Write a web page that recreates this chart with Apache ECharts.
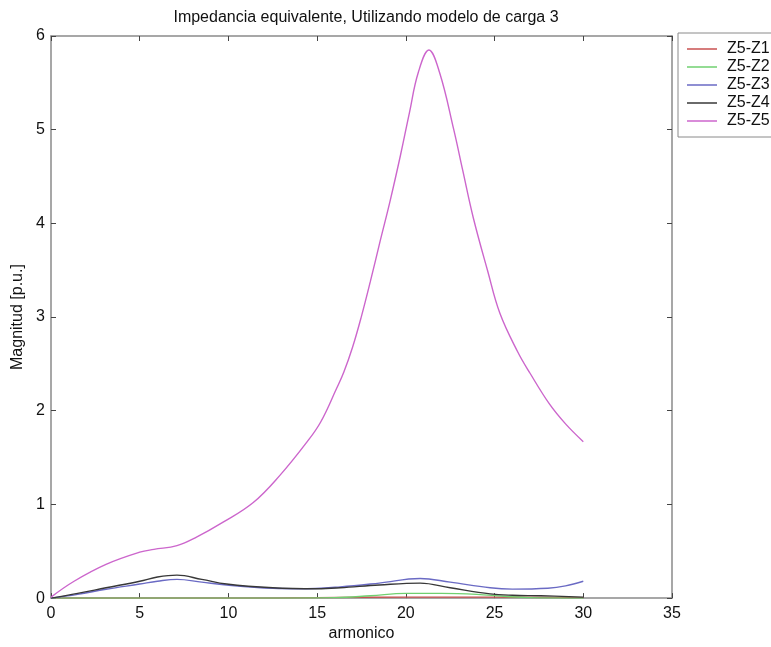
<!DOCTYPE html>
<html>
<head>
<meta charset="utf-8">
<script src="https://cdn.jsdelivr.net/npm/echarts@6/dist/echarts.min.js"></script>
<style>
html,body{margin:0;padding:0;background:#fff;}
#chart{width:771px;height:647px;}
</style>
</head>
<body>
<div id="chart"></div>
<script>
const titleText = 'Impedancia equivalente, Utilizando modelo de carga 3';
const xName = 'armonico';
const yName = 'Magnitud [p.u.]';
const seriesNames = ['Z5-Z1', 'Z5-Z2', 'Z5-Z3', 'Z5-Z4', 'Z5-Z5'];

const z1x = [0, 12, 15, 20, 25, 30];
const z1y = [0, 0, 0.005, 0.01, 0.01, 0.005];

const z2x = [0, 12, 16, 18, 20, 22, 24, 25.5, 27, 30];
const z2y = [0, 0, 0.005, 0.025, 0.05, 0.05, 0.04, 0.02, 0.005, 0];

const z3x = [0, 1.5, 3.1, 5, 6, 7.1, 8.5, 9.9, 12.5, 14, 16.3, 18.5, 20.8, 22.5, 24.75, 26, 28, 29, 30];
const z3y = [0, 0.04, 0.095, 0.15, 0.18, 0.2, 0.17, 0.14, 0.105, 0.1, 0.12, 0.16, 0.21, 0.17, 0.11, 0.096, 0.105, 0.13, 0.18];

const z4x = [0, 1.5, 3.1, 5, 6, 7.1, 8.5, 9.9, 12.5, 15, 16.3, 18.5, 20.8, 22.5, 24.75, 26, 27.6, 30];
const z4y = [0, 0.05, 0.11, 0.18, 0.225, 0.245, 0.2, 0.15, 0.11, 0.1, 0.11, 0.14, 0.16, 0.11, 0.045, 0.03, 0.025, 0.01];

const z5x = [0, 1.3, 3.1, 5.0, 5.8, 7.1, 8.2, 9.7, 11.4, 12.9, 14.4, 15.2, 16.1, 16.5, 17.0, 17.5, 18.0, 18.55, 19.1, 19.7, 20.2, 20.7, 21.3, 21.9, 22.7, 23.2, 23.8, 24.6, 25.3, 26.3, 27.0, 28.1, 29.0, 30.0];
const z5y = [0.01, 0.18, 0.36, 0.49, 0.52, 0.56, 0.65, 0.81, 1.02, 1.31, 1.66, 1.88, 2.24, 2.41, 2.68, 3.01, 3.38, 3.81, 4.23, 4.73, 5.18, 5.61, 5.85, 5.61, 5.0, 4.57, 4.06, 3.5, 3.04, 2.63, 2.4, 2.07, 1.86, 1.67];

const xTicks = [0, 5, 10, 15, 20, 25, 30, 35];
const yTicks = [0, 1, 2, 3, 4, 5, 6];

const colors = ['#c85050', '#70d070', '#6a6ac4', '#383838', '#cc66cc'];
const xsAll = [z1x, z2x, z3x, z4x, z5x];
const ysAll = [z1y, z2y, z3y, z4y, z5y];

const FONT = 'Liberation Sans, Arial, sans-serif';
const FS = 16;
const chart = echarts.init(document.getElementById('chart'), null, {renderer: 'canvas'});

function pairs(xs, ys) { return xs.map((x, i) => [x, ys[i]]); }

function axisCommon() {
  return {
    axisLine: {show: true, onZero: false, lineStyle: {color: '#8a8a8a', width: 1.5}},
    axisTick: {show: true, inside: true, length: 5, lineStyle: {color: '#444'}},
    splitLine: {show: false}
  };
}

const option = {
  animation: false,
  backgroundColor: '#fff',
  title: {
    text: titleText,
    left: 361,
    top: 5,
    textAlign: 'center',
    textStyle: {fontFamily: FONT, fontSize: FS, fontWeight: 'normal', color: '#111'}
  },
  legend: {
    orient: 'vertical',
    left: 678,
    top: 33,
    data: seriesNames,
    icon: 'rect',
    itemWidth: 30,
    itemHeight: 1.5,
    itemGap: 2,
    padding: [8, 10, 8, 9],
    borderColor: '#8a8a8a',
    borderWidth: 1,
    backgroundColor: '#fff',
    textStyle: {fontFamily: FONT, fontSize: FS, color: '#111', padding: [0, 0, 0, 5]}
  },
  grid: {left: 51, right: 99, top: 36, bottom: 43, containLabel: false},
  xAxis: [
    Object.assign({
      type: 'value', min: 0, max: 35, interval: 5, position: 'bottom',
      name: xName, nameLocation: 'middle', nameGap: 24,
      nameTextStyle: {fontFamily: FONT, fontSize: FS, color: '#111'},
      axisLabel: {fontFamily: FONT, fontSize: FS, color: '#111', margin: 7,
        formatter: v => xTicks.includes(v) ? String(v) : ''}
    }, axisCommon()),
    Object.assign({
      type: 'value', min: 0, max: 35, interval: 5, position: 'top',
      axisLabel: {show: false}
    }, axisCommon())
  ],
  yAxis: [
    Object.assign({
      type: 'value', min: 0, max: 6, interval: 1, position: 'left',
      name: yName, nameLocation: 'middle', nameGap: 22,
      nameTextStyle: {fontFamily: FONT, fontSize: FS, color: '#111'},
      axisLabel: {fontFamily: FONT, fontSize: FS, color: '#111', margin: 6,
        formatter: v => yTicks.includes(v) ? String(v) : ''}
    }, axisCommon()),
    Object.assign({
      type: 'value', min: 0, max: 6, interval: 1, position: 'right',
      axisLabel: {show: false}
    }, axisCommon())
  ],
  series: seriesNames.map((name, i) => ({
    name: name,
    type: 'line',
    xAxisIndex: 0,
    yAxisIndex: 0,
    data: pairs(xsAll[i], ysAll[i]),
    smooth: 0.4,
    symbol: 'none',
    color: colors[i],
    lineStyle: {width: 1.4, color: colors[i]},
    z: 2 + i
  }))
};
chart.setOption(option);
</script>
</body>
</html>
